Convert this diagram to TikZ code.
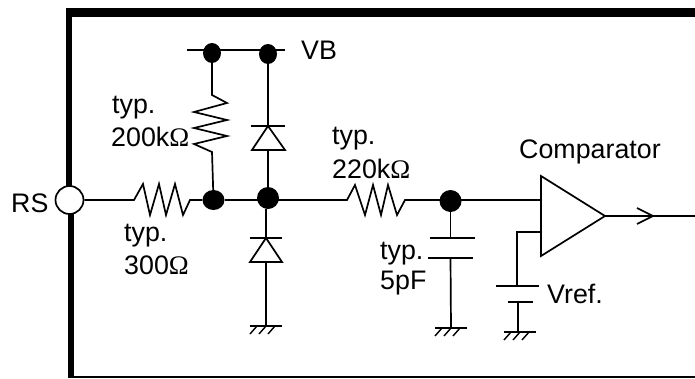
\documentclass[tikz,border=0pt]{standalone}
\usepackage{fontspec}
\setmainfont{Liberation Sans}
\newfontfamily\omfont{Liberation Serif}
\usetikzlibrary{shapes.geometric}
\newcommand{\Om}{{\omfont Ω}}
\tikzset{
  wire/.style={line width=1.7pt,line join=miter,line cap=butt},
  dot/.style={ellipse,fill=black,inner sep=0pt,minimum width=#1},
  dot/.default=21pt,
  lab/.style={anchor=base west,inner sep=0pt,font=\fontsize{26.8pt}{28pt}\selectfont,align=left},
  bar/.style={fill=black,draw=none},
  port/.style={circle,draw=black,line width=1.7pt,fill=white,inner sep=0pt,minimum size=28pt},
}
% ground symbol: #1 centre-top point, half widths
\newcommand{\grd}[1]{%
  \draw[wire] ([xshift=-16pt]#1) -- ([xshift=16pt]#1);
  \foreach \dx in {-9,0,9}{\draw[line width=1.4pt] ([xshift=\dx pt]#1) -- ([xshift=\dx pt-7pt,yshift=-8pt]#1);}
}
\begin{document}
\begin{tikzpicture}[x=1pt,y=-1pt]
\useasboundingbox (0,0) rectangle (695,378);
% frame
\fill[bar] (66,8) rectangle (695,17);
\fill[bar] (66,8) rectangle (72,195);
\fill[bar] (68,205) rectangle (74,378);
\fill[bar] (68,376) rectangle (695,378);
% junctions and points
\node[port] (rs) at (69.5,200) {};
\node[dot=18pt,minimum height=20pt] (j1) at (212,53) {};
\node[dot=18pt,minimum height=20pt] (j2) at (268,54) {};
\node[dot=22pt,minimum height=20pt] (j3) at (213.5,200) {};
\node[dot=22pt,minimum height=22pt] (j4) at (268,198) {};
\node[dot=22pt,minimum height=22pt] (j5) at (450.5,201) {};
\coordinate (vbl) at (187,50);
\coordinate (vbr) at (285,50);
\coordinate (w4) at (268,200);
\coordinate (w5) at (450.5,200);
\coordinate (g1) at (266,326);
\coordinate (g2) at (451,328);
\coordinate (g3) at (520,332);
\coordinate (out) at (695,216);
% comparator
\coordinate (ci1) at (541,200);
\coordinate (ci2) at (541,232);
\coordinate (co) at (605,216);
\draw[wire] (541,176) -- (co) -- (541,256) -- cycle;
% VB rail
\draw[wire] (vbl) -- (vbr);
% R 200k
\draw[wire] (j1) -- (212,95) -- (227,103) -- (194,112) -- (227,120) -- (194,128) -- (227,136) -- (194,144) -- (212,152) -- (j3);
% Upper diode
\draw[wire] (j2) -- (j4);
\draw[wire,fill=white] (268,126) -- (285,150) -- (252,150) -- cycle;
\draw[wire] (251,126) -- (285,126);
% Input R 300
\draw[wire] (rs) -- (134,200) -- (143,184) -- (150,215) -- (159,184) -- (166,215) -- (175,184) -- (183,215) -- (190,200) -- (j3);
\draw[wire] (j3) -- (w4);
% Lower diode
\draw[wire] (j4.south -| g1) -- (g1);
\draw[wire,fill=white] (266,238) -- (282,262) -- (250,262) -- cycle;
\draw[wire] (250,238) -- (282,238);
\grd{g1}
% R 220k
\draw[wire] (w4) -- (347,200) -- (355,185) -- (365,215) -- (373,185) -- (381,215) -- (388,185) -- (397,215) -- (405,200) -- (w5);
\draw[wire] (w5) -- (ci1);
% 5pF cap
\draw[wire] (j5) -- (450.5,238);
\draw[wire] (430,238) -- (475,238);
\draw[wire] (428,258) -- (473,258);
\draw[wire] (450.5,258) -- (g2);
\grd{g2}
% Vref
\draw[wire] (ci2) -- (517,232) -- (517,286);
\draw[wire] (496,286) -- (539,286);
\draw[wire] (508,302) -- (533,302);
\draw[wire] (518,302) -- (518,332);
\grd{g3}
% output
\draw[wire] (co) -- (out);
\draw[wire] (637,208) -- (653,216) -- (637,224);
% labels
\node[lab] (tVB) at (301,59) {VB};
\node[lab] (tRS) at (11,212) {RS};
\node[lab] (t1a) at (112,113) {typ.};
\node[lab] (t1b) at (111,146) {200k\Om};
\node[lab] (t2a) at (124,241) {typ.};
\node[lab] (t2b) at (124,274) {300\Om};
\node[lab] (t3a) at (332,144) {typ.};
\node[lab] (t3b) at (332,178) {220k\Om};
\node[lab] (t4) at (519,158) {Comparator};
\node[lab] (t5a) at (380,259) {typ.};
\node[lab] (t5b) at (380,289) {5pF};
\node[lab] (t6) at (547,303) {Vref.};
\end{tikzpicture}
\end{document}
